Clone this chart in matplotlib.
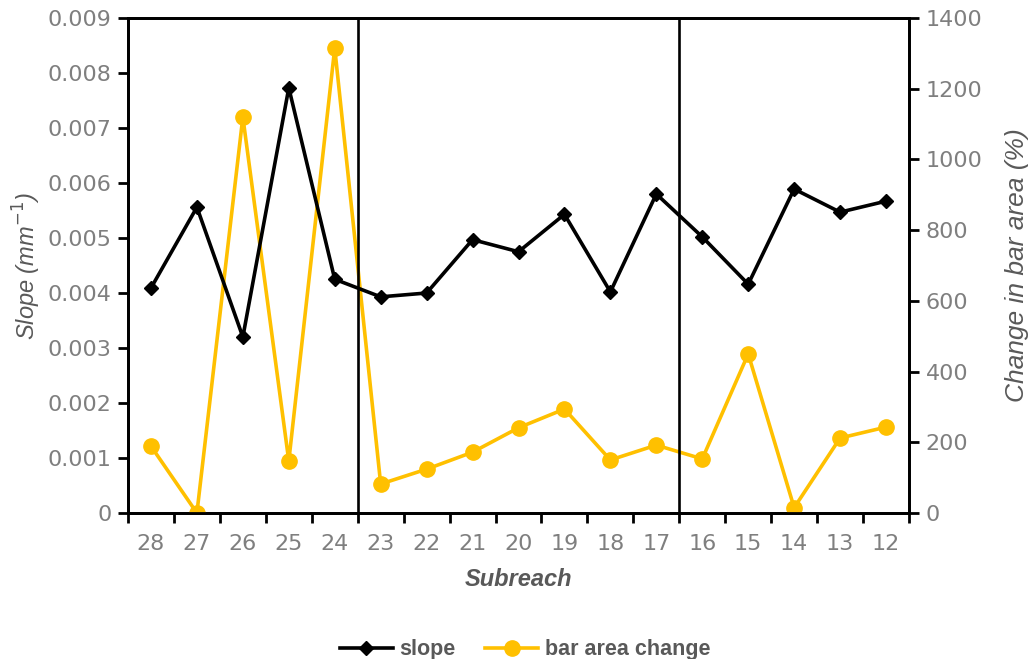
import matplotlib
matplotlib.use("Agg")
import matplotlib.pyplot as plt
from matplotlib.lines import Line2D

plt.rcParams['font.family'] = ['Liberation Sans', 'DejaVu Sans']

subreach = ["28", "27", "26", "25", "24", "23", "22", "21", "20", "19",
            "18", "17", "16", "15", "14", "13", "12"]
slope = [0.00409, 0.00556, 0.00320, 0.00773, 0.00425, 0.00393, 0.00400,
         0.00497, 0.00475, 0.00543, 0.00402, 0.00580, 0.00502, 0.00416,
         0.00589, 0.00547, 0.00567]
bar_area_change = [189, 0, 1120, 147, 1315, 82, 124, 172, 241, 294,
                   150, 192, 153, 450, 15, 212, 243]
divider_after = ["24", "17"]

tick_grey = "#7f7f7f"
label_grey = "#595959"
gold = "#FFC000"
tick_font = dict(family="DejaVu Sans", size=16)

fig = plt.figure(figsize=(10.29, 6.59), dpi=100)
ax = fig.add_axes([128 / 1029, 1 - 513 / 659, 781 / 1029, 495 / 659])
ax2 = ax.twinx()

x = list(range(len(subreach)))
ax.plot(x, slope, color="black", lw=2.6, marker="D", ms=7.5, zorder=4)
ax2.plot(x, bar_area_change, color=gold, lw=2.6, marker="o", ms=11, zorder=3)
ax.set_zorder(ax2.get_zorder() + 1)
ax.patch.set_visible(False)

ax.set_xlim(-0.5, len(subreach) - 0.5)
ax.set_ylim(0, 0.009)
ax.set_yticks([i / 1000 for i in range(10)])
ax.set_yticklabels(["0"] + [f"{i / 1000:.3f}" for i in range(1, 10)])
ax2.set_ylim(0, 1400)
ax2.set_yticks(range(0, 1401, 200))

ax.set_xticks(x)
ax.set_xticklabels(subreach)
ax.set_xticks([i - 0.5 for i in range(len(subreach) + 1)], minor=True)
ax.tick_params(axis="x", which="major", length=0, pad=15)
ax.tick_params(axis="x", which="minor", length=7, width=2, direction="out")

for a in (ax, ax2):
    for s in a.spines.values():
        s.set_color("black")
        s.set_linewidth(2)
    a.tick_params(axis="y", length=7, width=2, labelcolor=tick_grey, pad=5)
ax.tick_params(axis="x", labelcolor=tick_grey)
for lbl in ax.get_xticklabels() + ax.get_yticklabels() + ax2.get_yticklabels():
    lbl.set_fontfamily(tick_font["family"])
    lbl.set_fontsize(tick_font["size"])

for lbl in divider_after:
    ax.axvline(subreach.index(lbl) + 0.5, color="black", lw=1.9, zorder=1)

ax.set_ylabel("Slope (mm$^{-1}$)", fontsize=17, style="italic", color=label_grey, labelpad=3)
ax2.set_ylabel("Change in bar area (%)", fontsize=19, style="italic", color=label_grey, labelpad=16)
ax.set_xlabel("Subreach", fontsize=17, style="italic", fontweight="bold", color=label_grey, labelpad=10)

handles = [
    Line2D([], [], color="black", lw=2.6, marker="D", ms=7.5, label="slope"),
    Line2D([], [], color=gold, lw=2.6, marker="o", ms=11, label="bar area change"),
]
leg = fig.legend(handles=handles, loc="center", bbox_to_anchor=(525 / 1029, 1 - 650 / 659),
                 ncol=2, frameon=False, fontsize=15.5, handlelength=2.45,
                 columnspacing=1.4, handletextpad=0.3)
for t in leg.get_texts():
    t.set_color(label_grey)
    t.set_fontweight("bold")

fig.savefig("out.png", dpi=100)
